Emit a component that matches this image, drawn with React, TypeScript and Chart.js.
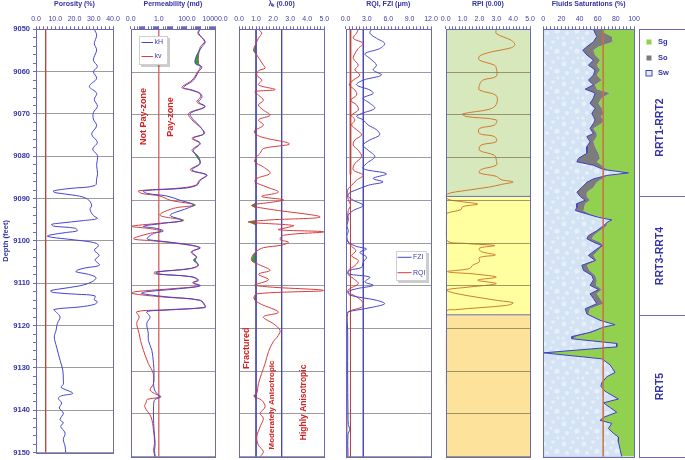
import React, { useEffect, useRef } from 'react';
import { Chart, registerables } from 'chart.js';

Chart.register(...registerables);

// ---------------- data ----------------
const depthRange = [9050, 9150];
const depthTicks = [9050, 9060, 9070, 9080, 9090, 9100, 9110, 9120, 9130, 9140, 9150];

const porosityTicks = [0, 10, 20, 30, 40];
const permTicks = [0.01, 1, 100, 10000];
const lambdaTicks = [0, 1, 2, 3, 4, 5];
const rqiTicks = [0, 3, 6, 9, 12];
const rpiTicks = [0, 1, 2, 3, 4, 5];
const satTicks = [0, 20, 40, 60, 80, 100];

// [depth ft, porosity %]
const porosity: [number, number][] = [
  [9050.0, 30.3], [9051.4, 31.5], [9053.4, 30.3], [9054.9, 31.5], [9057.3, 29.8], [9058.8, 31.9], [9060.0, 29.8],
  [9061.6, 31.5], [9063.5, 27.7], [9065.1, 31.5], [9066.6, 30.3], [9068.2, 31.9], [9069.7, 29.8], [9071.2, 29.8],
  [9072.8, 31.5], [9074.8, 28.9], [9076.7, 31.9], [9078.3, 29.4], [9079.8, 31.9], [9082.2, 31.5], [9084.1, 32.0],
  [9085.3, 31.5], [9086.9, 30.7], [9087.6, 17.7], [9088.2, 9.0], [9088.6, 9.9], [9089.3, 21.1], [9090.1, 26.7],
  [9091.5, 28.9], [9092.6, 28.1], [9094.0, 29.8], [9094.7, 31.9], [9095.2, 24.6], [9095.8, 12.5], [9096.1, 8.1],
  [9096.5, 9.0], [9097.0, 20.3], [9097.6, 21.5], [9098.0, 15.9], [9098.6, 7.3], [9098.9, 5.9], [9099.3, 10.7],
  [9100.0, 24.6], [9100.6, 31.5], [9101.2, 32.4], [9102.2, 30.3], [9103.4, 32.8], [9104.5, 30.7], [9105.7, 33.0],
  [9106.4, 25.5], [9106.9, 21.5], [9107.3, 20.8], [9107.9, 27.2], [9108.7, 31.2], [9109.7, 28.9], [9110.6, 22.9],
  [9111.4, 11.6], [9111.8, 7.6], [9112.2, 9.0], [9112.6, 21.1], [9113.0, 30.7], [9113.9, 30.3], [9114.4, 31.9],
  [9115.0, 30.3], [9115.6, 22.9], [9116.2, 9.3], [9116.9, 10.7], [9118.0, 12.5], [9119.5, 11.1], [9121.2, 10.4],
  [9122.7, 9.5], [9125.1, 10.7], [9128.2, 12.5], [9130.5, 13.9], [9132.9, 14.2], [9133.9, 14.2], [9134.6, 13.0],
  [9136.0, 19.1], [9136.6, 13.3], [9137.2, 11.6], [9138.3, 13.3], [9139.5, 12.1], [9140.7, 14.2], [9142.2, 12.5],
  [9143.0, 14.2], [9143.8, 12.8], [9145.4, 15.1], [9146.9, 14.2], [9148.5, 15.1], [9150.0, 15.4],
];

// [depth ft, kH md, kv md]
const permeability: [number, number, number][] = [
  [9050.0, 900, 800], [9050.9, 680, 600], [9052.9, 2000, 1800], [9054.1, 1170, 900], [9056.0, 510, 680],
  [9058.0, 390, 680], [9058.8, 1170, 900], [9059.9, 680, 600], [9061.9, 295, 230], [9063.6, 58, 44],
  [9064.2, 230, 174], [9065.0, 900, 800], [9065.9, 1170, 900], [9067.0, 680, 510], [9068.1, 2000, 1800],
  [9069.7, 174, 130], [9071.2, 295, 230], [9072.8, 900, 800], [9074.4, 1550, 1800], [9075.5, 295, 230],
  [9076.7, 900, 800], [9078.3, 295, 230], [9079.8, 510, 680], [9081.4, 900, 800], [9082.9, 230, 174],
  [9084.1, 2700, 2400], [9085.3, 900, 800], [9086.5, 510, 400], [9087.2, 58, 20], [9087.8, 0.08, 0.035],
  [9088.4, 0.15, 0.06], [9089.0, 3.7, 1.2], [9090.0, 33, 6.5], [9091.1, 295, 400], [9091.9, 100, 11],
  [9093.5, 6.5, 1.2], [9094.7, 44, 60], [9095.4, 2.1, 1.0], [9096.1, 0.08, 0.012], [9096.6, 0.72, 0.2],
  [9097.2, 2.1, 1.5], [9097.8, 0.42, 0.2], [9099.0, 0.15, 0.016], [9099.5, 0.93, 0.4], [9100.1, 33, 20],
  [9101.1, 900, 800], [9102.1, 230, 200], [9103.3, 510, 450], [9104.0, 295, 400], [9105.2, 680, 600],
  [9106.0, 174, 150], [9106.8, 0.72, 0.5], [9107.2, 0.72, 0.5], [9107.9, 230, 200], [9108.7, 680, 600],
  [9109.3, 295, 250], [9110.0, 900, 800], [9110.6, 58, 20], [9111.4, 0.14, 0.02], [9111.8, 0.06, 0.012],
  [9112.6, 3.7, 1.5], [9113.4, 900, 800], [9114.6, 2000, 1800], [9115.1, 2000, 1800], [9115.7, 3.7, 1.0],
  [9116.1, 0.14, 0.027], [9117.3, 0.24, 0.04], [9118.8, 0.14, 0.027], [9121.2, 0.18, 0.04], [9122.8, 0.18, 0.05],
  [9125.1, 0.32, 0.08], [9128.2, 0.42, 0.18], [9130.5, 0.46, 0.4], [9132.9, 0.42, 0.42], [9134.4, 0.5, 0.24],
  [9135.2, 0.72, 0.5], [9136.0, 1.2, 1.4], [9136.6, 0.55, 0.15], [9137.2, 0.45, 0.13], [9138.3, 0.42, 0.1],
  [9140.7, 0.42, 0.28], [9143.8, 0.46, 0.42], [9146.9, 0.55, 0.5], [9148.5, 0.5, 0.42], [9150.0, 0.55, 0.55],
];

// [depth ft, lambda k]
const lambdaK: [number, number][] = [
  [9050.0, 1.14], [9050.9, 1.33], [9052.1, 1.14], [9053.3, 1.0], [9054.9, 0.85], [9056.0, 1.04], [9057.2, 1.24],
  [9058.4, 1.43], [9059.1, 1.53], [9059.7, 1.14], [9060.7, 1.04], [9061.9, 1.33], [9063.0, 1.14], [9064.1, 2.12],
  [9064.6, 0.94], [9065.4, 1.14], [9066.6, 1.43], [9067.7, 1.14], [9068.9, 1.43], [9070.1, 1.82], [9071.2, 1.14],
  [9072.4, 1.43], [9073.9, 0.9], [9075.1, 1.24], [9076.8, 2.96], [9077.9, 1.43], [9079.0, 1.24], [9079.8, 1.04],
  [9081.0, 0.92], [9082.2, 1.43], [9083.7, 1.82], [9084.9, 1.04], [9085.7, 0.94], [9086.9, 1.63], [9088.1, 2.31],
  [9089.1, 1.33], [9089.9, 2.61], [9090.4, 2.02], [9091.2, 0.73], [9092.0, 1.63], [9093.9, 4.76], [9094.6, 1.82],
  [9095.1, 0.55], [9095.9, 3.2], [9096.4, 2.8], [9096.9, 2.31], [9097.4, 4.96], [9098.2, 2.61], [9099.2, 2.41],
  [9099.8, 2.9], [9100.5, 2.5], [9101.1, 1.43], [9101.9, 1.04], [9102.9, 0.8], [9104.1, 0.74], [9105.0, 1.14],
  [9106.4, 1.82], [9107.3, 1.14], [9108.6, 1.73], [9109.9, 0.94], [9111.1, 4.96], [9111.9, 1.04], [9113.0, 0.88],
  [9114.2, 1.24], [9116.2, 2.31], [9117.3, 1.43], [9118.9, 2.02], [9120.5, 2.41], [9122.1, 2.22], [9123.0, 2.02],
  [9125.4, 1.73], [9128.2, 1.53], [9130.5, 1.33], [9132.9, 1.14], [9135.2, 1.04], [9135.8, 0.86], [9136.8, 1.33],
  [9138.3, 1.53], [9139.9, 1.24], [9141.0, 1.43], [9143.0, 1.24], [9145.4, 1.04], [9147.3, 1.14], [9148.8, 1.43],
  [9150.0, 1.24],
];

// [depth ft, FZI um]
const fzi: [number, number][] = [
  [9050.0, 3.65], [9050.9, 3.42], [9052.1, 4.35], [9053.3, 5.5], [9054.5, 4.8], [9055.7, 2.72], [9056.8, 3.42],
  [9058.4, 4.35], [9059.5, 3.88], [9060.7, 5.05], [9061.9, 2.48], [9063.0, 1.56], [9064.2, 3.42], [9065.0, 3.88],
  [9066.1, 2.48], [9067.3, 3.42], [9068.5, 4.11], [9069.7, 2.26], [9070.4, 1.56], [9071.2, 2.48], [9072.4, 3.18],
  [9073.5, 4.35], [9074.7, 4.8], [9075.9, 3.42], [9077.1, 2.48], [9078.3, 3.18], [9079.8, 4.11], [9081.4, 2.95],
  [9082.6, 2.48], [9083.8, 5.74], [9084.9, 3.88], [9085.7, 5.27], [9086.5, 3.18], [9087.7, 1.32], [9088.3, 0.53],
  [9089.1, 0.39], [9090.0, 1.09], [9091.2, 2.48], [9092.4, 1.09], [9093.5, 0.39], [9094.7, 0.39], [9095.9, 0.17],
  [9097.1, 0.39], [9098.6, 0.17], [9099.8, 0.39], [9100.8, 1.56], [9101.4, 2.95], [9102.2, 2.02], [9103.3, 2.95],
  [9104.5, 2.48], [9105.7, 2.26], [9106.4, 0.6], [9107.2, 0.39], [9108.0, 3.42], [9109.1, 2.72], [9109.9, 3.88],
  [9110.7, 1.56], [9111.4, 0.39], [9112.2, 0.6], [9113.4, 4.35], [9114.2, 5.5], [9115.0, 3.88], [9115.7, 1.56],
  [9116.1, 0.39], [9116.5, 0.17], [9120.0, 0.3], [9130.0, 0.3], [9140.0, 0.35], [9142.5, 0.4], [9143.6, 0.6],
  [9144.8, 0.35], [9150.0, 0.35],
];

// [depth ft, RQI um]
const rqi: [number, number][] = [
  [9050.0, 1.79], [9050.9, 1.56], [9052.1, 1.09], [9053.3, 2.48], [9054.5, 1.79], [9055.7, 1.32], [9056.8, 1.09],
  [9058.4, 1.79], [9059.5, 1.32], [9060.7, 2.02], [9061.9, 1.09], [9063.0, 0.53], [9064.2, 1.32], [9065.4, 1.56],
  [9066.6, 0.72], [9067.7, 1.56], [9068.9, 1.79], [9070.1, 0.86], [9071.2, 1.32], [9072.4, 0.86], [9073.5, 1.56],
  [9074.7, 2.26], [9075.9, 1.32], [9077.1, 1.09], [9078.3, 1.79], [9079.8, 2.26], [9081.4, 1.32], [9082.9, 1.09],
  [9084.1, 2.48], [9085.3, 1.56], [9086.5, 0.86], [9087.3, 0.39], [9088.1, 0.25], [9089.3, 0.3], [9090.4, 0.53],
  [9091.2, 0.72], [9092.4, 0.39], [9094.7, 0.25], [9097.1, 0.17], [9098.6, 0.17], [9099.8, 0.39], [9100.8, 0.86],
  [9101.8, 1.46], [9103.0, 0.86], [9104.1, 1.79], [9105.3, 1.32], [9106.4, 0.39], [9107.4, 0.39], [9108.3, 1.09],
  [9109.5, 1.79], [9110.7, 0.6], [9111.4, 0.25], [9112.6, 1.56], [9114.0, 2.48], [9115.0, 2.26], [9115.9, 0.6],
  [9116.5, 0.3], [9120.0, 0.2], [9135.0, 0.2], [9150.0, 0.2],
];

// [depth ft, RPI]
const rpi: [number, number][] = [
  [9050.0, 3.0], [9051.0, 3.0], [9052.6, 3.9], [9053.6, 4.1], [9054.3, 3.9], [9055.4, 2.6], [9056.3, 2.0],
  [9057.2, 2.0], [9058.4, 2.9], [9059.1, 3.0], [9061.0, 3.0], [9061.9, 2.2], [9063.1, 2.0], [9064.2, 2.0],
  [9065.5, 3.0], [9067.6, 3.0], [9068.7, 2.6], [9069.8, 1.0], [9070.4, 1.2], [9071.2, 3.0], [9072.4, 2.9],
  [9073.2, 2.0], [9074.4, 2.0], [9075.1, 2.9], [9076.3, 3.0], [9077.1, 2.1], [9078.3, 2.0], [9079.5, 2.9],
  [9080.6, 3.0], [9081.8, 3.0], [9082.8, 2.1], [9083.6, 2.0], [9084.4, 3.0], [9085.2, 3.3], [9085.7, 4.0],
  [9086.3, 3.3], [9086.9, 2.6], [9087.7, 1.2], [9088.6, 0.05], [9089.7, 0.1], [9090.3, 0.9], [9090.9, 1.9],
  [9091.5, 1.0], [9092.2, 0.9], [9093.0, 0.1], [9093.6, 0.05], [9099.3, 0.05], [9100.1, 1.2], [9100.6, 2.9],
  [9101.2, 2.0], [9102.0, 2.1], [9102.8, 2.95], [9103.4, 2.0], [9104.4, 2.0], [9105.2, 1.6], [9106.0, 1.4],
  [9106.7, 0.1], [9107.3, 1.8], [9108.0, 3.0], [9108.7, 1.9], [9109.5, 3.0], [9110.3, 1.4], [9111.0, 0.05],
  [9111.8, 0.6], [9113.4, 3.0], [9114.0, 4.0], [9114.6, 3.6], [9115.6, 0.6], [9116.1, 0.05], [9150.0, 0.05],
];

// [depth ft, Sw %, So %]  (Sg = 100 - Sw - So)
const saturation: [number, number, number][] = [
  [9050.0, 55.3, 9.2], [9050.9, 57.1, 11.0], [9051.7, 59.0, 16.5], [9052.9, 55.3, 21.3], [9054.1, 48.0, 12.8],
  [9054.9, 43.6, 11.7], [9056.0, 48.0, 9.1], [9057.2, 55.3, 7.3], [9058.4, 49.8, 9.2], [9059.5, 57.1, 5.5],
  [9060.7, 55.3, 3.7], [9061.9, 49.8, 14.7], [9063.0, 55.3, 1.8], [9064.0, 46.2, 12.8], [9064.9, 57.1, 16.5],
  [9066.1, 55.3, 9.2], [9067.3, 51.6, 9.2], [9068.5, 57.1, 7.4], [9069.7, 53.5, 12.8], [9070.4, 55.3, 8.2],
  [9071.2, 57.1, 9.2], [9072.0, 55.3, 9.2], [9073.2, 51.6, 3.7], [9074.4, 55.3, 3.7], [9075.1, 48.0, 11.0],
  [9076.3, 51.6, 3.7], [9077.5, 48.0, 9.1], [9079.0, 48.0, 12.8], [9080.2, 38.8, 23.8], [9081.0, 37.0, 22.0],
  [9081.8, 55.3, 9.2], [9082.8, 66.3, 3.7], [9083.6, 93.8, 0], [9084.2, 70.0, 1.0], [9085.0, 55.3, 9.2],
  [9085.8, 48.0, 11.0], [9087.0, 42.5, 12.8], [9088.1, 37.0, 11.0], [9089.1, 40.7, 7.3], [9090.0, 46.2, 5.4],
  [9090.8, 37.0, 9.2], [9091.7, 37.0, 8.1], [9092.4, 35.2, 9.1], [9093.2, 48.0, 3.6], [9094.0, 60.8, 1.8],
  [9094.6, 75.5, 0], [9095.2, 70.0, 0], [9096.0, 66.3, 3.7], [9097.1, 59.0, 3.6], [9098.3, 49.8, 5.5],
  [9099.0, 48.0, 5.5], [9099.8, 55.3, 7.3], [9100.6, 64.5, 1.8], [9101.7, 57.1, 3.7], [9102.9, 49.8, 5.5],
  [9104.1, 57.1, 1.9], [9105.2, 42.5, 5.5], [9106.4, 44.3, 6.6], [9107.6, 53.5, 3.6], [9108.6, 55.3, 3.7],
  [9109.9, 51.6, 6.6], [9110.9, 60.8, 3.7], [9111.9, 51.6, 7.4], [9113.0, 55.3, 7.3], [9114.2, 59.0, 7.3],
  [9115.4, 46.2, 5.4], [9116.6, 48.0, 1.8], [9118.1, 62.6, 1.9], [9119.1, 79.1, 0], [9119.7, 66.3, 0],
  [9120.9, 51.6, 3.7], [9121.9, 31.5, 5.5], [9122.4, 31.5, 1.8], [9123.5, 81.0, 0], [9124.3, 81.0, 0],
  [9125.7, 0.3, 0], [9127.1, 64.5, 0], [9128.5, 73.6, 0], [9130.3, 79.1, 0], [9131.3, 70.0, 0],
  [9132.7, 64.5, 0], [9133.5, 63.5, 0], [9134.7, 68.1, 0], [9136.5, 82.8, 0], [9137.4, 66.3, 0],
  [9138.5, 73.6, 0], [9139.6, 81.0, 0], [9140.8, 66.3, 0], [9141.5, 62.6, 0], [9142.2, 75.5, 0],
  [9143.4, 71.8, 0], [9144.5, 77.3, 0], [9145.4, 82.8, 0], [9146.5, 82.8, 0], [9148.3, 84.7, 0],
  [9150.0, 86.5, 0],
];

const zoneNames = ['RRT1-RRT2', 'RRT3-RRT4', 'RRT5'];
const zoneTops = [9050, 9089.1, 9116.8];
const zoneBases = [9089.1, 9116.8, 9150];

const cutoffPorosity = 5;
const cutoffPerm = 1;
const cutoffLambda = [1, 2.5];
const cutoffRqi = 0.7;
const cutoffFzi = 2.5;
const rqiHighlightBase = 9084;
const cutoffSat = 66;

// ---------------- styling / layout ----------------
const FONT = "'Liberation Sans', Arial, sans-serif";
const C = {
  title: '#3333a6', tick: '#3f3fa2', frame: '#6a6ab6', grid: '#9c9c9c',
  blue: '#4545d2', red: '#d63c3c', cutRed: '#b8453e', permCut: '#d25e5e', cutBlue: '#4a4ab8',
  green: '#2f9e3c', sg: '#92d050', so: '#7c7c7c', swLine: '#4040c0', satCut: '#cc6e3e',
  rpi: '#cf7a30', annot: '#d42222', rpiGrid: 'rgba(125,120,80,0.75)',
};
const zoneColors = ['#d7e9bc', '#ffffa0', '#fde29c'];
const M = 22;
const CANVAS_H = 460, PLOT_TOP = 29.3, PLOT_BOTTOM = 456.7;
const TRACK: Record<string, [number, number]> = {
  phi: [36, 113], perm: [130.7, 215], lam: [239, 324.3], rqi: [345.5, 431], rpi: [445.7, 530], sat: [543.3, 634],
};

const near = (v: number, list: number[]) => list.some((t) => Math.abs(v - t) < 1e-6 * Math.max(1, Math.abs(t)));
const pts = (rows: number[][]) => rows.map((r) => ({ x: r[1], y: r[0] }));

function curve(rows: number[][], color: string, extra: any = {}) {
  return { data: pts(rows), borderColor: color, borderWidth: 1, pointRadius: 0, pointHoverRadius: 0, tension: 0.35, fill: false, ...extra };
}
function vline(value: number, color: string, width = 1, from = depthRange[0], to = depthRange[1]) {
  return { data: [{ x: value, y: from }, { x: value, y: to }], borderColor: color, borderWidth: width, pointRadius: 0, tension: 0, fill: false };
}
function hline(depth: number, x0: number, x1: number, color: string) {
  return { data: [{ x: x0, y: depth }, { x: x1, y: depth }], borderColor: color, borderWidth: 1, pointRadius: 0, tension: 0, fill: false };
}

function logTicks(min: number, max: number) {
  const out: number[] = [];
  for (let e = Math.round(Math.log10(min)); e < Math.round(Math.log10(max)); e++) {
    for (let m = 1; m < 10; m++) out.push(Number((m * Math.pow(10, e)).toPrecision(3)));
  }
  out.push(max);
  return out;
}

function xAxis(title: string, min: number, max: number, step: number, labels: number[], digits: number, log = false) {
  const ax: any = {
    type: log ? 'logarithmic' : 'linear', position: 'top', min, max,
    title: { display: true, text: title, color: C.title, font: { family: FONT, size: 7, weight: 'bold' }, padding: { top: 0, bottom: 0 } },
    ticks: {
      autoSkip: false, maxRotation: 0, minRotation: 0, padding: 3.5, color: C.tick, font: { family: FONT, size: 7 },
      callback: (v: any) => (near(Number(v), labels) ? Number(v).toFixed(digits) : ''),
    },
    grid: { drawOnChartArea: false, drawTicks: true, tickLength: 3, tickColor: C.frame, lineWidth: 1 },
    border: { display: false },
    afterFit: (s: any) => { s.height = PLOT_TOP; },
  };
  if (log) ax.afterBuildTicks = (s: any) => { s.ticks = logTicks(min, max).map((value) => ({ value })); };
  else ax.ticks.stepSize = step;
  return ax;
}

function yAxis(kind: 'first' | 'grid' | 'none', gridOnTop = false, gridColor = C.grid) {
  const first = kind === 'first';
  return {
    type: 'linear', position: 'left', reverse: true, min: depthRange[0], max: depthRange[1],
    ticks: {
      display: first, stepSize: 2, autoSkip: false, padding: 3, color: C.title,
      font: { family: FONT, size: 7.5, weight: 'bold' },
      callback: (v: any) => (depthTicks.includes(Number(v)) ? String(v) : ''),
    },
    title: { display: first, text: 'Depth (feet)', color: C.title, font: { family: FONT, size: 7.5, weight: 'bold' }, padding: { top: 1, bottom: 0 } },
    grid: {
      display: kind !== 'none', drawTicks: first, tickLength: 3, tickColor: C.frame,
      color: (ctx: any) => (kind !== 'none' && ctx.tick && depthTicks.includes(ctx.tick.value) ? gridColor : 'rgba(0,0,0,0)'),
      z: gridOnTop ? 1 : -1,
    },
    border: { display: false },
    afterFit: (s: any) => { s.width = first ? TRACK.phi[0] : 0; },
  };
}

const framePlugin = {
  id: 'frame',
  afterDraw(chart: any) {
    const { ctx, chartArea: a } = chart;
    ctx.save();
    ctx.strokeStyle = C.frame;
    ctx.lineWidth = 1;
    const l = Math.round(a.left) + 0.5, t = Math.round(a.top) + 0.5;
    ctx.strokeRect(l, t, Math.round(a.right) - Math.round(a.left), Math.round(a.bottom) - Math.round(a.top));
    ctx.restore();
  },
};

function rotatedText(items: { text: string; x: number; y: number; size: number }[]) {
  return {
    id: 'rotatedText',
    afterDatasetsDraw(chart: any) {
      const { ctx } = chart;
      const xs = chart.scales.x, ys = chart.scales.y;
      items.forEach((it) => {
        ctx.save();
        ctx.translate(xs.getPixelForValue(it.x), ys.getPixelForValue(it.y));
        ctx.rotate(-Math.PI / 2);
        ctx.font = `bold ${it.size}px ${FONT}`;
        ctx.fillStyle = C.annot;
        ctx.textAlign = 'center';
        ctx.textBaseline = 'middle';
        ctx.fillText(it.text, 0, 0);
        ctx.restore();
      });
    },
  };
}

function boxLegend(box: { dx: number; dy: number; w: number; h: number }, items: { ds: number; dy: number }[], lineX: [number, number], textX: number) {
  return {
    id: 'boxLegend',
    afterDatasetsDraw(chart: any) {
      const { ctx, chartArea: a } = chart;
      const x = Math.round(a.left + box.dx), y = Math.round(a.top + box.dy);
      ctx.save();
      ctx.fillStyle = 'rgba(0,0,0,0.2)';
      ctx.fillRect(x + 2, y + 2, box.w, box.h);
      ctx.fillStyle = '#ffffff';
      ctx.fillRect(x, y, box.w, box.h);
      ctx.strokeStyle = '#cfcfcf';
      ctx.lineWidth = 1;
      ctx.strokeRect(x + 0.5, y + 0.5, box.w - 1, box.h - 1);
      items.forEach((it) => {
        const ds = chart.data.datasets[it.ds];
        const ly = y + it.dy;
        ctx.strokeStyle = ds.borderColor;
        ctx.beginPath();
        ctx.moveTo(x + lineX[0], ly);
        ctx.lineTo(x + lineX[1], ly);
        ctx.stroke();
        ctx.fillStyle = C.tick;
        ctx.font = `7px ${FONT}`;
        ctx.textAlign = 'left';
        ctx.textBaseline = 'middle';
        ctx.fillText(ds.label, x + textX, ly);
      });
      ctx.restore();
    },
  };
}

function zonePanel(legendIdx: number[]) {
  return {
    id: 'zonePanel',
    afterDraw(chart: any) {
      const { ctx, chartArea: a } = chart;
      const ys = chart.scales.y;
      const x0 = Math.round(a.right + 5.3) + 0.5;
      const x1 = chart.width + 5;
      ctx.save();
      ctx.strokeStyle = C.frame;
      ctx.lineWidth = 1;
      zoneNames.forEach((name, i) => {
        const t = Math.round(ys.getPixelForValue(zoneTops[i])) + 0.5;
        const b = Math.round(ys.getPixelForValue(zoneBases[i])) + 0.5;
        ctx.strokeRect(x0, t, x1 - x0, b - t);
        const cy = i === 0 ? (t + 29 + b) / 2 : (t + b) / 2;
        ctx.save();
        ctx.translate(x0 + 20.7, cy);
        ctx.rotate(-Math.PI / 2);
        ctx.font = `bold 10.5px ${FONT}`;
        ctx.fillStyle = C.title;
        ctx.textAlign = 'center';
        ctx.textBaseline = 'middle';
        ctx.fillText(name, 0, 0);
        ctx.restore();
      });
      legendIdx.forEach((di, k) => {
        const ds = chart.data.datasets[di];
        const cy = Math.round(a.top + 12.7 + k * 15.5);
        ctx.fillStyle = ds.label === 'Sw' ? '#e4eef9' : ds.backgroundColor;
        ctx.fillRect(x0 + 7, cy - 2.5, 5, 5);
        if (ds.label === 'Sw') {
          ctx.strokeStyle = ds.borderColor;
          ctx.strokeRect(x0 + 6.5, cy - 2.5, 6, 5.5);
        }
        ctx.fillStyle = C.title;
        ctx.font = `bold 7.5px ${FONT}`;
        ctx.textAlign = 'left';
        ctx.textBaseline = 'middle';
        ctx.fillText(ds.label, x0 + 18.5, cy);
      });
      ctx.restore();
    },
  };
}

type Geom = { cl: number; cw: number; padL: number; padR: number };
function geom(tr: [number, number], first = false, canvasRight?: number): Geom {
  const [left, right] = tr;
  const cl = first ? 0 : Math.floor(left - M);
  const cr = canvasRight ?? Math.ceil(right + M);
  return { cl, cw: cr - cl, padL: first ? 0 : left - cl, padR: cr - right };
}

function makeConfig(g: Geom, scales: any, datasets: any[], plugins: any[]) {
  return {
    type: 'line',
    data: { datasets },
    options: {
      responsive: false, animation: false, devicePixelRatio: 1, indexAxis: 'y', events: [],
      layout: { padding: { left: g.padL, right: g.padR, top: 0, bottom: CANVAS_H - PLOT_BOTTOM } },
      plugins: { legend: { display: false }, tooltip: { enabled: false } },
      scales,
    },
    plugins: [framePlugin, ...plugins],
  };
}

function buildPorosity(g: Geom) {
  return makeConfig(g, { x: xAxis('Porosity (%)', 0, 40, 2, porosityTicks, 1), y: yAxis('first') },
    [curve(porosity, C.blue), vline(cutoffPorosity, C.cutRed, 1)], []);
}

function buildPerm(g: Geom) {
  const kH = permeability.map((r) => [r[0], r[1]]);
  const kv = permeability.map((r) => [r[0], r[2]]);
  const kMax = permeability.map((r) => [r[0], Math.max(r[1], r[2])]);
  const left = TRACK.perm[0], top = PLOT_TOP;
  return makeConfig(g, { x: xAxis('Permeability (md)', 0.01, 10000, 0, permTicks, 1, true), y: yAxis('grid') }, [
    curve(kH, C.blue, { label: 'kH' }),
    curve(kMax, 'rgba(0,0,0,0)', { borderWidth: 0, fill: '-1', backgroundColor: C.green }),
    curve(kv, C.red, { label: 'kv' }),
    vline(cutoffPerm, C.permCut, 1.3),
  ], [
    rotatedText([
      { text: 'Not Pay-zone', x: 0.0757, y: 9070.4, size: 9 },
      { text: 'Pay-zone', x: 6.4, y: 9070.5, size: 9 },
    ]),
    boxLegend({ dx: 139 - left, dy: 36 - top, w: 29, h: 29 }, [{ ds: 0, dy: 6.5 }, { ds: 2, dy: 20.5 }], [2.5, 14], 15.5),
  ]);
}

function buildLambda(g: Geom) {
  const below = lambdaK.map((r) => [r[0], Math.min(r[1], cutoffLambda[0])]);
  return makeConfig(g, { x: xAxis('λₖ (0.00)', 0, 5, 0.2, lambdaTicks, 1), y: yAxis('grid') }, [
    curve(lambdaK, C.red),
    vline(cutoffLambda[0], C.cutBlue),
    vline(cutoffLambda[1], C.cutBlue),
    curve(below, 'rgba(0,0,0,0)', { borderWidth: 0, tension: 0, fill: { value: cutoffLambda[0] }, backgroundColor: C.green }),
  ], [
    rotatedText([
      { text: 'Fractured', x: 0.43, y: 9124.6, size: 9 },
      { text: 'Moderately Anisotropic', x: 1.9, y: 9137.9, size: 8 },
      { text: 'Highly Anisotropic', x: 3.78, y: 9137.3, size: 8.5 },
    ]),
  ]);
}

function buildRqi(g: Geom) {
  const left = TRACK.rqi[0], top = PLOT_TOP;
  return makeConfig(g, { x: xAxis('RQI, FZI (μm)', 0, 12, 0.5, rqiTicks, 1), y: yAxis('grid') }, [
    curve(fzi, C.blue, { label: 'FZI' }),
    curve(rqi, C.red, { label: 'RQI' }),
    vline(cutoffRqi, C.cutRed),
    vline(cutoffFzi, C.cutBlue),
    vline(cutoffRqi, 'rgba(215,120,120,0.55)', 3, depthRange[0], rqiHighlightBase),
  ], [
    boxLegend({ dx: 396 - left, dy: 251 - top, w: 31, h: 30 }, [{ ds: 0, dy: 6.3 }, { ds: 1, dy: 21.7 }], [1.5, 15.5], 17),
  ]);
}

function buildRpi(g: Geom) {
  const rects = zoneNames.map((_, i) => ({
    data: [{ x: 5, y: zoneTops[i] }, { x: 5, y: zoneBases[i] }],
    borderWidth: 0, pointRadius: 0, tension: 0, fill: { value: 0 }, backgroundColor: zoneColors[i],
  }));
  const bounds = zoneBases.slice(0, -1).map((b) => hline(b, 0, 5, C.frame));
  return makeConfig(g, { x: xAxis('RPI (0.00)', 0, 5, 0.2, rpiTicks, 1), y: yAxis('grid', true, C.rpiGrid) }, [
    curve(rpi, C.rpi),
    ...bounds,
    ...rects,
  ], []);
}

function makeSwPattern() {
  const c = document.createElement('canvas');
  c.width = 20; c.height = 20;
  const g = c.getContext('2d')!;
  g.fillStyle = '#d3e3f4';
  g.fillRect(0, 0, 20, 20);
  g.fillStyle = 'rgba(255,255,255,0.45)';
  const spots = [[3, 4, 2.4], [12, 2, 1.8], [16, 11, 2.6], [6, 13, 2.0], [10, 8, 1.4], [2, 18, 1.6], [17, 18, 1.5]];
  spots.forEach(([x, y, r]) => { g.beginPath(); g.arc(x, y, r, 0, Math.PI * 2); g.fill(); });
  return g.createPattern(c, 'repeat') || '#d4e4f5';
}

function buildSat(g: Geom) {
  const sw = saturation.map((r) => [r[0], r[1]]);
  const swSo = saturation.map((r) => [r[0], r[1] + r[2]]);
  return makeConfig(g, { x: xAxis('Fluids Saturations (%)', 0, 100, 4, satTicks, 0), y: yAxis('none') }, [
    vline(cutoffSat, C.satCut, 1.5),
    curve(sw, C.swLine, { label: 'Sw', tension: 0, fill: { value: 0 }, backgroundColor: makeSwPattern() }),
    curve(swSo, 'rgba(0,0,0,0)', { label: 'So', borderWidth: 0, tension: 0, fill: { value: 0 }, backgroundColor: C.so }),
    curve(swSo, 'rgba(0,0,0,0)', { label: 'Sg', borderWidth: 0, tension: 0, fill: { value: 100 }, backgroundColor: C.sg }),
  ], [zonePanel([3, 2, 1])]);
}

const specs = [
  { key: 'phi', g: geom(TRACK.phi, true), build: buildPorosity },
  { key: 'perm', g: geom(TRACK.perm), build: buildPerm },
  { key: 'lam', g: geom(TRACK.lam), build: buildLambda },
  { key: 'rqi', g: geom(TRACK.rqi), build: buildRqi },
  { key: 'rpi', g: geom(TRACK.rpi), build: buildRpi },
  { key: 'sat', g: geom(TRACK.sat, false, 685), build: buildSat },
];

function TrackChart({ g, build }: { g: Geom; build: (g: Geom) => any }) {
  const ref = useRef<HTMLCanvasElement>(null);
  useEffect(() => {
    if (!ref.current) return;
    const chart = new Chart(ref.current, build(g) as any);
    return () => chart.destroy();
  }, []);
  return (
    <canvas
      ref={ref}
      width={g.cw}
      height={CANVAS_H}
      style={{ position: 'absolute', left: g.cl, top: 0, width: g.cw, height: CANVAS_H }}
    />
  );
}

export default function App() {
  return (
    <div style={{ position: 'absolute', left: 0, top: 0, width: 685, height: 460, background: '#ffffff', overflow: 'hidden' }}>
      {specs.map((s) => (
        <TrackChart key={s.key} g={s.g} build={s.build} />
      ))}
    </div>
  );
}
